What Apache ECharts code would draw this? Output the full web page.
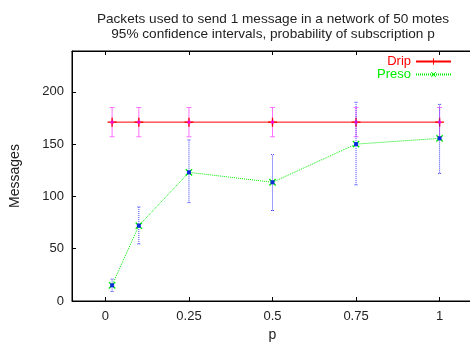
<!DOCTYPE html>
<html>
<head>
<meta charset="utf-8">
<title>Packets per message</title>
<script src="https://cdn.jsdelivr.net/npm/echarts@6/dist/echarts.min.js"></script>
</head>
<body style="margin:0">
<div id="box" style="width:470px;height:343px;"></div>
<script>
var pValues = [0.02, 0.1, 0.25, 0.5, 0.75, 1]
var dripMean = [171, 171, 171, 171, 171, 171]
var dripLow = [157, 157, 157, 157, 157, 157]
var dripHigh = [185, 185, 185, 185, 185, 185]
var presoMean = [15, 72, 123, 113.5, 150, 155.5]
var presoLow = [9, 54.5, 94, 86.5, 111, 122]
var presoHigh = [21, 90, 154, 140, 190, 188]
var xTicks = [0, 0.25, 0.5, 0.75, 1]
var yTicks = [0, 50, 100, 150, 200]

var font = 'Liberation Sans, Arial, sans-serif'

function pairs(xs, ys) {
  return xs.map(function (x, i) { return [x, ys[i]] })
}
function bars(xs, lo, hi) {
  return xs.map(function (x, i) { return [x, lo[i], hi[i]] })
}
function errorBars(color, cap, dashed) {
  return function (params, api) {
    var a = api.coord([api.value(0), api.value(1)])
    var b = api.coord([api.value(0), api.value(2)])
    var st = { stroke: color, lineWidth: 1, lineDash: dashed ? [1, 1] : null }
    return {
      type: 'group',
      children: [
        { type: 'line', shape: { x1: a[0], y1: a[1], x2: b[0], y2: b[1] }, style: st },
        { type: 'line', shape: { x1: a[0] - cap, y1: a[1], x2: a[0] + cap, y2: a[1] }, style: st },
        { type: 'line', shape: { x1: b[0] - cap, y1: b[1], x2: b[0] + cap, y2: b[1] }, style: st }
      ]
    }
  }
}

var plus = 'path://M4,0h1.4v4h4v1.4h-4v4h-1.4v-4h-4v-1.4h4z'

var chart = echarts.init(document.getElementById('box'))
chart.setOption({
  animation: false,
  textStyle: { fontFamily: font },
  graphic: [{
    type: 'text', x: 273, y: 11,
    style: {
      text: 'Packets used to send 1 message in a network of 50 motes\n95% confidence intervals, probability of subscription p',
      font: '13.6px ' + font, fill: '#222', align: 'center', textAlign: 'center', lineHeight: 15.5
    }
  }],
  legend: {
    orient: 'vertical', right: 13, top: 50, align: 'right',
    itemWidth: 35, itemHeight: 8, itemGap: 0,
    textStyle: { fontSize: 13, fontFamily: font },
    data: [
      { name: 'Drip', textStyle: { color: '#ff0000' } },
      { name: 'Preso', textStyle: { color: '#00ee00' } }
    ]
  },
  grid: {
    left: 72, top: 51, width: 401, height: 250, outerBoundsMode: 'none',
    show: true, borderColor: '#000', borderWidth: 1
  },
  xAxis: [{
    type: 'value', min: -0.1, max: 1.1,
    name: 'p', nameLocation: 'middle', nameGap: 27,
    nameTextStyle: { fontSize: 14, color: '#222' },
    axisLine: { onZero: false, lineStyle: { color: '#000' } },
    axisTick: { inside: true, length: 4, customValues: xTicks, lineStyle: { color: '#000' } },
    axisLabel: { customValues: xTicks, color: '#222', fontSize: 13, margin: 9 },
    splitLine: { show: false }
  }, {
    type: 'value', min: -0.1, max: 1.1, position: 'top',
    axisLine: { onZero: false, lineStyle: { color: '#000' } },
    axisTick: { inside: true, length: 4, customValues: xTicks, lineStyle: { color: '#000' } },
    axisLabel: { show: false },
    splitLine: { show: false }
  }],
  yAxis: {
    type: 'value', min: 0, max: 239,
    name: 'Messages', nameLocation: 'middle', nameGap: 50,
    nameTextStyle: { fontSize: 14, color: '#222' },
    axisLine: { show: true, onZero: false, lineStyle: { color: '#000' } },
    axisTick: { show: true, inside: true, length: 4, customValues: yTicks, lineStyle: { color: '#000' } },
    axisLabel: { customValues: yTicks, color: '#222', fontSize: 13, margin: 8 },
    splitLine: { show: false }
  },
  series: [
    {
      type: 'custom', name: 'dripErr', renderItem: errorBars('#ff70ff', 2.5, false),
      data: bars(pValues, dripLow, dripHigh), z: 2, silent: true
    },
    {
      type: 'line', name: 'Drip', data: pairs(pValues, dripMean),
      lineStyle: { color: '#ff0000', width: 1 }, itemStyle: { color: '#ff0000' },
      symbol: plus, symbolSize: 9, showAllSymbol: true, z: 3
    },
    {
      type: 'scatter', name: 'dripPt', data: pairs(pValues, dripMean),
      symbol: 'rect', symbolSize: 3, itemStyle: { color: '#ff00ff' }, z: 4, silent: true
    },
    {
      type: 'custom', name: 'presoErr', renderItem: errorBars('#4040ff', 1.5, true),
      data: bars(pValues, presoLow, presoHigh), z: 5, silent: true
    },
    {
      type: 'line', name: 'Preso', data: pairs(pValues, presoMean),
      lineStyle: { color: '#00ee00', width: 1, type: [1, 1] }, itemStyle: { color: '#00ee00' },
      symbol: plus, symbolRotate: 45, symbolSize: 9, showAllSymbol: true, z: 6
    },
    {
      type: 'scatter', name: 'presoPt', data: pairs(pValues, presoMean),
      symbol: 'rect', symbolSize: 4, itemStyle: { color: '#0000ff' }, z: 7, silent: true
    }
  ]
})
</script>
</body>
</html>
